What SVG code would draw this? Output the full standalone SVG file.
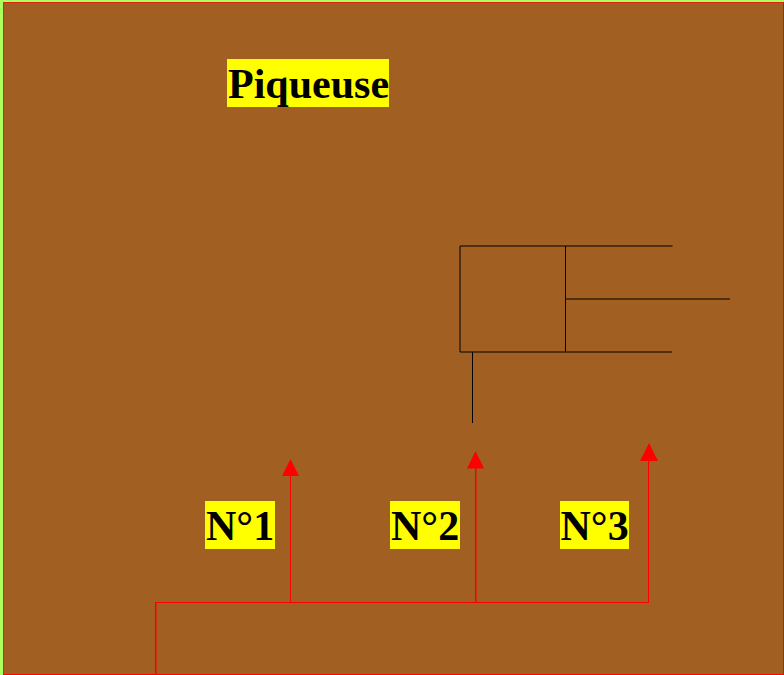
<svg xmlns="http://www.w3.org/2000/svg" width="784" height="675" viewBox="0 0 784 675">
<defs>
<style>
.lbl{font-family:"Liberation Serif","Times New Roman",serif;font-weight:bold;font-size:42px;fill:#000}
.bg{fill:#ff0}
.blk{stroke:#000;stroke-width:1;fill:none}
.red{stroke:#f00;stroke-width:1;fill:none}
.redw{stroke:#f00;stroke-width:1.500;fill:none}
.head{fill:#f00}
</style>
</defs>
<rect x="0" y="0" width="784" height="675" fill="#adff5f"/>
<rect x="3" y="2" width="781" height="673" fill="#a16021"/>
<path class="red" d="M3.500 675V2.500H784" stroke-opacity="0.6"/>
<path class="red" d="M3 674.500H784M783.500 2V675"/>
<g id="title"><rect class="bg" x="227" y="59" width="162" height="48"/><text class="lbl" x="228" y="98">Piqueuse</text></g>
<g id="cylinder">
<path class="blk" d="M672.500 246H460V352H672M565.500 246V352M566 299H730"/>
<path class="blk" d="M472.500 352V423"/>
</g>
<g id="n1"><rect class="bg" x="205" y="501" width="70" height="48"/><text class="lbl" x="206" y="540">N°1</text></g>
<g id="n2"><rect class="bg" x="390" y="501" width="70" height="48"/><text class="lbl" x="391" y="540">N°2</text></g>
<g id="n3"><rect class="bg" x="560" y="501" width="69" height="48"/><text class="lbl" x="560.500" y="540">N°3</text></g>
<g id="connectors">
<path class="red" d="M155 602.500H649M290.500 602V475M648.500 602V460"/>
<path class="redw" d="M155.750 675V602M475.750 602V468"/>
<path class="head" d="M290.500 459L299 476H282Z"/>
<path class="head" d="M475.500 451L484 468.500H467Z"/>
<path class="head" d="M649 443L658 461H640Z"/>
</g>
</svg>
